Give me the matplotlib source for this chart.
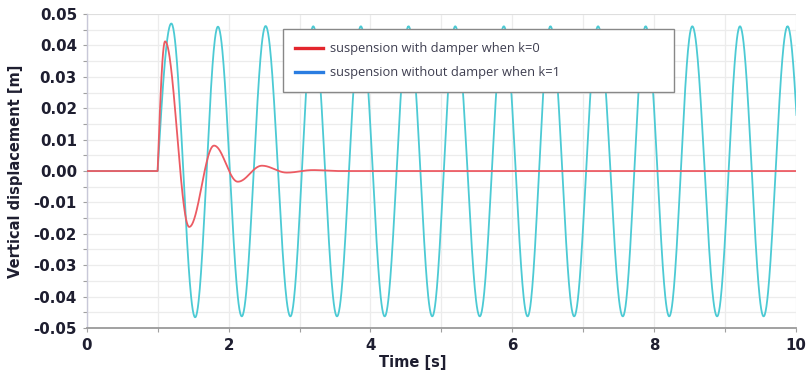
import numpy as np
import matplotlib
matplotlib.use("Agg")
import matplotlib.pyplot as plt
from matplotlib.lines import Line2D
from matplotlib.ticker import MultipleLocator, FormatStrFormatter

# ---- data ----
onset_time = 1.0
t_end = 10.0

# suspension without damper (k=1): alternating extrema
cyan_peak_t = [1.193, 1.850, 2.522, 3.193, 3.864, 4.536, 5.194, 5.879, 6.536,
               7.207, 7.878, 8.535, 9.207, 9.878]
cyan_peak_y = [0.0470, 0.0460, 0.0462, 0.0461, 0.0461, 0.0461, 0.0461, 0.0461,
               0.0461, 0.0461, 0.0461, 0.0461, 0.0461, 0.0461]
cyan_trough_t = [1.529, 2.186, 2.871, 3.528, 4.200, 4.870, 5.540, 6.214, 6.870,
                 7.556, 8.210, 8.885, 9.540, 10.215]
cyan_trough_y = [-0.0466, -0.0463, -0.0463, -0.0463, -0.0463, -0.0463, -0.0463,
                 -0.0463, -0.0463, -0.0463, -0.0463, -0.0463, -0.0463, -0.0463]

# suspension with damper (k=0): extrema of the decaying response
red_ext_t = [1.105, 1.445, 1.795, 2.130, 2.470, 2.820, 3.190, 3.550]
red_ext_y = [0.0413, -0.0178, 0.0081, -0.0034, 0.0017, -0.0005, 0.0003, 0.0]

legend_labels = ["suspension with damper when k=0",
                 "suspension without damper when k=1"]
x_ticks = [0, 2, 4, 6, 8, 10]
y_ticks = [-0.05, -0.04, -0.03, -0.02, -0.01, 0.0, 0.01, 0.02, 0.03, 0.04, 0.05]


def smooth_curve(ext_t, ext_y, t0, t_last, n=60):
    """Flat zero before onset, quarter-sine rise to first extremum,
    half-cosine segments between successive extrema, flat after."""
    ts = [np.array([0.0, t0])]
    ys = [np.array([0.0, 0.0])]
    s = np.linspace(0, 1, n)
    ts.append(t0 + (ext_t[0] - t0) * s)
    ys.append(ext_y[0] * np.sin(np.pi / 2 * s))
    for i in range(len(ext_t) - 1):
        a, b = ext_y[i], ext_y[i + 1]
        ts.append(ext_t[i] + (ext_t[i + 1] - ext_t[i]) * s)
        ys.append(a + (b - a) * (1 - np.cos(np.pi * s)) / 2)
    if ext_t[-1] < t_last:
        ts.append(np.array([ext_t[-1], t_last]))
        ys.append(np.array([ext_y[-1], ext_y[-1]]))
    return np.concatenate(ts), np.concatenate(ys)


cyan_t = []
cyan_y = []
for i in range(len(cyan_peak_t)):
    cyan_t += [cyan_peak_t[i], cyan_trough_t[i]]
    cyan_y += [cyan_peak_y[i], cyan_trough_y[i]]

ct, cy = smooth_curve(cyan_t, cyan_y, onset_time, t_end)
rt, ry = smooth_curve(red_ext_t, red_ext_y, onset_time, t_end)

plt.rcParams['axes.unicode_minus'] = False
fig = plt.figure(figsize=(8.1, 3.71), dpi=100)
ax = fig.add_axes([0.107, 0.116, 0.876, 0.846])

ax.plot(ct, cy, color='#4ccad4', lw=1.3, zorder=3)
ax.plot(rt, ry, color='#ec5b63', lw=1.3, zorder=4)

ax.set_xlim(0, 10)
ax.set_ylim(-0.05, 0.05)
ax.set_xticks(x_ticks)
ax.set_yticks(y_ticks)
ax.xaxis.set_minor_locator(MultipleLocator(1))
ax.yaxis.set_minor_locator(MultipleLocator(0.005))
ax.yaxis.set_major_formatter(FormatStrFormatter('%.2f'))

ax.grid(True, which='both', color='#ececec', lw=0.9, zorder=0)
ax.set_axisbelow(True)

for side in ['top', 'right']:
    ax.spines[side].set_visible(False)
ax.spines['left'].set_color('#c8c8d8')
ax.spines['left'].set_linewidth(1.0)
ax.spines['bottom'].set_color('#9a9a9a')
ax.spines['bottom'].set_linewidth(1.3)
ax.axhline(0.05, color='#dcdcdc', lw=1.2, zorder=1)

ax.tick_params(axis='both', which='both', direction='out', color='#a0a0a0',
               length=3, width=0.8, labelcolor='#1e1e30', pad=4)
for lab in ax.get_xticklabels() + ax.get_yticklabels():
    lab.set_fontweight('bold')
    lab.set_fontsize(10.8)

ax.set_ylabel("Vertical displacement [m]", fontsize=10.5, fontweight='bold',
              color='#1e1e30')
ax.yaxis.set_label_coords(-0.09, 0.5)
ax.set_xlabel("Time [s]", fontsize=10.5, fontweight='bold', color='#1e1e30')
ax.xaxis.set_label_coords(0.46, -0.085)

handles = [Line2D([], [], color='#e3262d', lw=2.4),
           Line2D([], [], color='#2a7de1', lw=2.4)]
leg = ax.legend(handles, legend_labels, loc='upper left',
                bbox_to_anchor=(0.276, 0.952, 0.552, 0.0), mode='expand',
                prop={'family': 'Open Sans', 'size': 9.3},
                frameon=True, fancybox=False, framealpha=1, edgecolor='#888888',
                borderpad=1.0, labelspacing=0.85, handlelength=2.1,
                handletextpad=0.6, borderaxespad=0)
leg.get_frame().set_linewidth(1.0)
for txt in leg.get_texts():
    txt.set_color('#3e3e50')
leg.set_zorder(10)

fig.savefig("out.png", dpi=100)
